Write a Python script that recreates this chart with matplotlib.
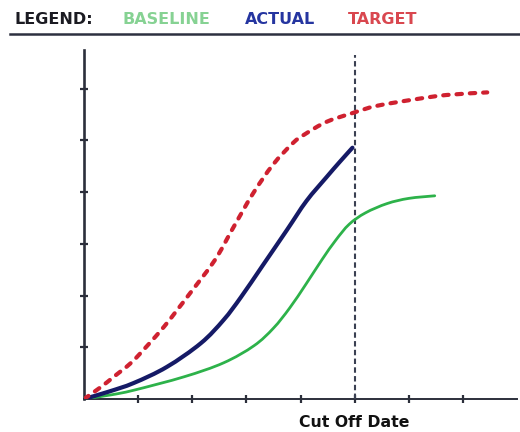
import matplotlib
matplotlib.use("Agg")
import numpy as np
import matplotlib.pyplot as plt
from matplotlib.lines import Line2D
from matplotlib.path import Path
from matplotlib.patches import PathPatch

# S-curve progress data (time units on x, progress units on y)
target_x = [0.0, 0.31, 0.55, 0.87, 1.16, 1.48, 1.72, 1.97, 2.42, 2.75, 3.12,
            3.49, 3.86, 4.08, 4.48, 4.96, 5.41, 6.14, 6.70, 7.45]
target_y = [0.0, 0.23, 0.43, 0.70, 1.02, 1.40, 1.72, 2.06, 2.69, 3.30, 3.97,
            4.53, 4.95, 5.12, 5.36, 5.53, 5.67, 5.80, 5.88, 5.93]

actual_x = [0.0, 0.45, 0.92, 1.53, 2.16, 2.58, 2.90, 3.30, 3.75, 4.11, 4.48, 4.72, 4.96]
actual_y = [0.0, 0.14, 0.31, 0.62, 1.08, 1.53, 1.97, 2.58, 3.27, 3.83, 4.29, 4.58, 4.86]

baseline_x = [0.0, 0.5, 0.92, 1.85, 2.58, 3.14, 3.50, 3.80, 4.10, 4.40, 4.65,
              4.90, 5.20, 5.60, 6.00, 6.48]
baseline_y = [0.0, 0.08, 0.17, 0.43, 0.70, 1.03, 1.37, 1.76, 2.22, 2.70, 3.07,
              3.38, 3.60, 3.78, 3.88, 3.93]

cutoff = 5.0
cutoff_label = "Cut Off Date"
x_ticks = [1, 2, 3, 4, 5, 6, 7]
y_ticks = [1, 2, 3, 4, 5, 6]

legend_items = [("LEGEND:", "#1b1b22"), ("BASELINE", "#86d293"),
                ("ACTUAL", "#2535a0"), ("TARGET", "#d9474f")]
legend_pos = [14, 122, 245, 348]


def smooth_path(xs, ys):
    """Bezier path passing through every data point (Catmull-Rom tangents)."""
    p = np.column_stack([xs, ys]).astype(float)
    n = len(p)
    verts = [p[0]]
    codes = [Path.MOVETO]
    for i in range(n - 1):
        p0 = p[i - 1] if i > 0 else p[i]
        p1, p2 = p[i], p[i + 1]
        p3 = p[i + 2] if i + 2 < n else p[i + 1]
        c1 = p1 + (p2 - p0) / 6.0
        c2 = p2 - (p3 - p1) / 6.0
        verts += [c1, c2, p2]
        codes += [Path.CURVE4] * 3
    return Path(verts, codes)


def draw_curve(ax, xs, ys, **kw):
    patch = PathPatch(smooth_path(xs, ys), facecolor="none", **kw)
    ax.add_patch(patch)
    return patch


W, H = 520, 432
fig = plt.figure(figsize=(W / 100, H / 100), dpi=100)
fig.patch.set_facecolor("white")

ax = fig.add_axes([84 / W, (H - 399) / H, 433 / W, (399 - 50) / H])
ax.set_xlim(0, 8.0)
ax.set_ylim(0, 6.75)

axis_col = "#2c2f3b"
for side in ("top", "right"):
    ax.spines[side].set_visible(False)
ax.spines["left"].set_color(axis_col)
ax.spines["left"].set_linewidth(1.9)
ax.spines["bottom"].set_color(axis_col)
ax.spines["bottom"].set_linewidth(1.4)

ax.set_xticks(x_ticks)
ax.set_yticks(y_ticks)
ax.set_xticklabels([])
ax.set_yticklabels([])
ax.tick_params(direction="inout", length=6, width=1.6, color=axis_col)

# cut-off marker
ax.plot([cutoff, cutoff], [0, 6.65], color="#3a4052", lw=1.5,
        dashes=(2.6, 1.6), zorder=3)

draw_curve(ax, baseline_x, baseline_y, edgecolor="#2db24a", lw=2.0,
           capstyle="round", joinstyle="round", zorder=4)
draw_curve(ax, actual_x, actual_y, edgecolor="#151a66", lw=3.0,
           capstyle="round", joinstyle="round", zorder=5)
draw_curve(ax, target_x, target_y, edgecolor="#cf2130", lw=3.0,
           linestyle=(0, (1.3, 1.9)), capstyle="round", zorder=6)

ax.text(cutoff, -0.45, cutoff_label, ha="center", va="center",
        fontsize=11.3, fontweight="heavy", color="#111111", clip_on=False)

# header legend and rule
for (label, col), px in zip(legend_items, legend_pos):
    fig.text(px / W, 1 - 20 / H, label, ha="left", va="center",
             fontsize=11.5, fontweight="bold", color=col)

fig.add_artist(Line2D([10 / W, 1.0], [1 - 34 / H, 1 - 34 / H],
                      color="#2d3040", lw=1.8, transform=fig.transFigure))

fig.savefig("out.png", dpi=100)
